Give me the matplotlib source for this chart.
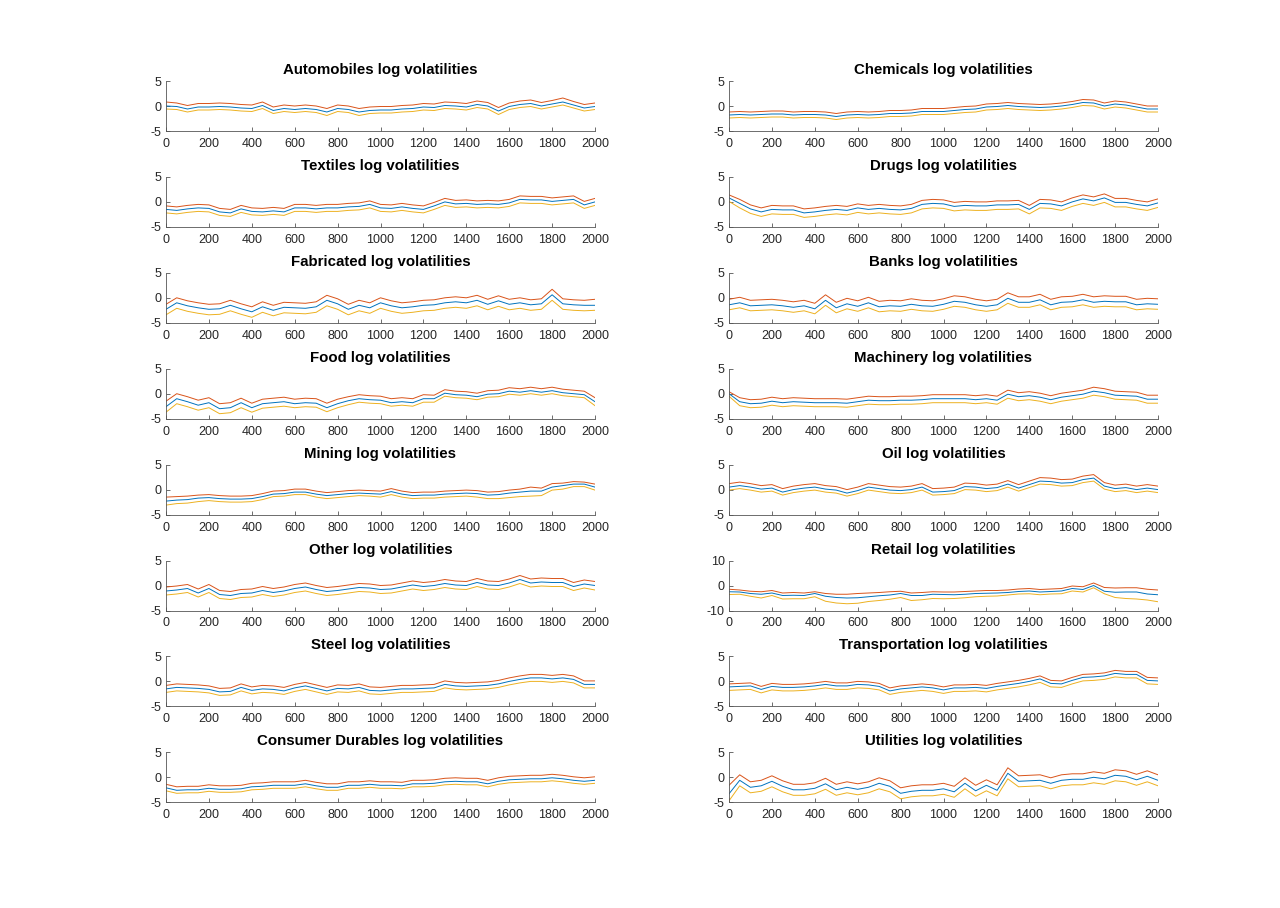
import numpy as np
import matplotlib
matplotlib.use("Agg")
import matplotlib.pyplot as plt

plt.rcParams['font.family'] = ['Liberation Sans', 'DejaVu Sans']
plt.rcParams['axes.unicode_minus'] = False

# sample index (every 50 observations)
obs = np.arange(0, 2001, 50)

titles = ["Automobiles", "Chemicals", "Textiles", "Drugs", "Fabricated", "Banks",
          "Food", "Machinery", "Mining", "Oil", "Other", "Retail", "Steel",
          "Transportation", "Consumer Durables", "Utilities"]

auto_mid = [0.0,-0.1,-0.6,-0.2,-0.2,-0.1,-0.2,-0.4,-0.5,0.1,-0.9,-0.5,-0.7,-0.5,-0.7,-1.2,-0.5,-0.7,-1.2,-0.9,-0.8,-0.8,-0.6,-0.5,-0.2,-0.3,0.1,0.0,-0.2,0.3,0.0,-1.0,-0.1,0.3,0.5,0.0,0.4,0.8,0.2,-0.4,-0.1]
auto_hi = [0.8,0.6,0.1,0.5,0.5,0.6,0.5,0.3,0.2,0.8,-0.2,0.2,0.0,0.2,0.0,-0.5,0.2,0.0,-0.5,-0.2,-0.1,-0.1,0.1,0.2,0.5,0.4,0.8,0.7,0.5,1.0,0.7,-0.3,0.6,1.0,1.2,0.7,1.1,1.6,0.9,0.3,0.6]
auto_lo = [-0.6,-0.7,-1.2,-0.8,-0.8,-0.7,-0.8,-1.0,-1.1,-0.5,-1.5,-1.1,-1.3,-1.1,-1.3,-1.9,-1.1,-1.3,-1.9,-1.5,-1.4,-1.4,-1.2,-1.1,-0.8,-0.9,-0.5,-0.6,-0.8,-0.3,-0.6,-1.7,-0.7,-0.3,-0.1,-0.6,-0.2,0.2,-0.4,-1.0,-0.7]

chem_mid = [-1.8,-1.7,-1.8,-1.7,-1.6,-1.6,-1.8,-1.7,-1.7,-1.8,-2.1,-1.8,-1.7,-1.8,-1.7,-1.5,-1.5,-1.4,-1.1,-1.1,-1.1,-0.9,-0.7,-0.6,-0.2,-0.1,0.1,-0.1,-0.2,-0.3,-0.2,0.0,0.3,0.7,0.6,0.0,0.4,0.2,-0.2,-0.6,-0.6]
chem_hi = [-1.2,-1.1,-1.2,-1.1,-1.0,-1.0,-1.2,-1.1,-1.1,-1.2,-1.5,-1.2,-1.1,-1.2,-1.1,-0.9,-0.9,-0.8,-0.5,-0.5,-0.5,-0.3,-0.1,0.0,0.4,0.5,0.7,0.5,0.4,0.3,0.4,0.6,0.9,1.3,1.2,0.6,1.0,0.8,0.4,0.0,0.0]
chem_lo = [-2.4,-2.3,-2.4,-2.3,-2.2,-2.2,-2.4,-2.3,-2.3,-2.4,-2.7,-2.4,-2.3,-2.4,-2.3,-2.1,-2.1,-2.0,-1.7,-1.7,-1.7,-1.5,-1.3,-1.2,-0.8,-0.7,-0.5,-0.7,-0.8,-0.9,-0.8,-0.6,-0.3,0.1,0.0,-0.6,-0.2,-0.4,-0.8,-1.2,-1.2]

text_mid = [-1.5,-1.7,-1.4,-1.2,-1.3,-2.0,-2.2,-1.4,-1.9,-2.0,-1.8,-2.0,-1.2,-1.2,-1.4,-1.2,-1.2,-1.0,-0.9,-0.5,-1.2,-1.3,-1.0,-1.3,-1.5,-0.8,0.0,-0.4,-0.3,-0.5,-0.4,-0.5,-0.2,0.5,0.4,0.4,0.1,0.3,0.5,-0.6,0.0]
text_hi = [-0.8,-1.0,-0.7,-0.5,-0.6,-1.3,-1.5,-0.7,-1.2,-1.3,-1.1,-1.3,-0.5,-0.5,-0.7,-0.5,-0.5,-0.3,-0.2,0.2,-0.5,-0.6,-0.3,-0.6,-0.8,-0.1,0.7,0.3,0.4,0.2,0.3,0.2,0.5,1.2,1.1,1.1,0.8,1.0,1.2,0.1,0.7]
text_lo = [-2.2,-2.4,-2.1,-1.9,-2.0,-2.7,-2.9,-2.1,-2.6,-2.7,-2.5,-2.7,-1.9,-1.9,-2.1,-1.9,-1.9,-1.7,-1.6,-1.2,-1.9,-2.0,-1.7,-2.0,-2.2,-1.5,-0.7,-1.1,-1.0,-1.2,-1.1,-1.2,-0.9,-0.2,-0.3,-0.3,-0.6,-0.4,-0.2,-1.3,-0.7]

drug_mid = [0.8,-0.3,-1.4,-2.0,-1.5,-1.6,-1.6,-2.2,-2.0,-1.7,-1.5,-1.7,-1.2,-1.5,-1.3,-1.5,-1.6,-1.3,-0.5,-0.3,-0.4,-0.9,-0.7,-0.8,-0.8,-0.6,-0.6,-0.5,-1.5,-0.3,-0.4,-0.8,0.0,0.6,0.2,0.8,-0.1,-0.1,-0.5,-0.8,-0.2]
drug_hi = [1.4,0.5,-0.6,-1.2,-0.7,-0.8,-0.8,-1.4,-1.2,-0.9,-0.7,-0.9,-0.4,-0.7,-0.5,-0.7,-0.8,-0.5,0.3,0.5,0.4,-0.1,0.1,0.0,0.0,0.2,0.2,0.3,-0.7,0.5,0.4,0.0,0.8,1.4,1.0,1.6,0.7,0.7,0.3,0.0,0.6]
drug_lo = [0.1,-1.2,-2.3,-2.9,-2.4,-2.5,-2.5,-3.1,-2.9,-2.6,-2.4,-2.6,-2.1,-2.4,-2.2,-2.4,-2.5,-2.2,-1.4,-1.2,-1.3,-1.8,-1.6,-1.7,-1.7,-1.5,-1.5,-1.4,-2.4,-1.2,-1.3,-1.7,-0.9,-0.3,-0.7,-0.1,-1.0,-1.0,-1.4,-1.7,-1.1]

fabr_mid = [-2.3,-1.0,-1.6,-2.0,-2.3,-2.2,-1.5,-2.2,-2.8,-1.8,-2.5,-1.9,-2.0,-2.1,-1.8,-0.5,-1.2,-2.3,-1.5,-2.0,-1.0,-1.6,-2.0,-1.8,-1.5,-1.4,-1.0,-0.8,-1.0,-0.5,-1.3,-0.6,-1.3,-1.0,-1.4,-1.2,0.6,-1.2,-1.4,-1.5,-1.5]
fabr_hi = [-1.3,0.0,-0.6,-1.0,-1.3,-1.2,-0.5,-1.2,-1.8,-0.8,-1.5,-0.9,-1.0,-1.1,-0.8,0.5,-0.2,-1.3,-0.5,-1.0,0.0,-0.6,-1.0,-0.8,-0.5,-0.4,0.0,0.2,0.0,0.5,-0.3,0.4,-0.3,0.0,-0.4,-0.2,1.7,-0.2,-0.4,-0.5,-0.3]
fabr_lo = [-3.4,-2.1,-2.7,-3.1,-3.4,-3.3,-2.6,-3.3,-3.9,-2.9,-3.6,-3.0,-3.1,-3.2,-2.9,-1.6,-2.3,-3.4,-2.6,-3.1,-2.1,-2.7,-3.1,-2.9,-2.6,-2.5,-2.1,-1.9,-2.1,-1.6,-2.4,-1.7,-2.4,-2.1,-2.5,-2.3,-0.5,-2.3,-2.5,-2.6,-2.5]

bank_mid = [-1.4,-1.0,-1.6,-1.5,-1.4,-1.6,-1.9,-1.6,-2.2,-0.5,-2.0,-1.2,-1.7,-1.0,-1.8,-1.6,-1.7,-1.3,-1.6,-1.7,-1.3,-0.7,-0.9,-1.4,-1.7,-1.4,-0.1,-0.9,-0.9,-0.4,-1.4,-0.9,-0.8,-0.4,-0.9,-0.7,-0.8,-0.8,-1.4,-1.2,-1.3]
bank_hi = [-0.3,0.1,-0.5,-0.4,-0.3,-0.5,-0.8,-0.5,-1.1,0.6,-0.9,-0.1,-0.6,0.1,-0.7,-0.5,-0.6,-0.2,-0.5,-0.6,-0.2,0.4,0.2,-0.3,-0.6,-0.3,1.0,0.2,0.2,0.7,-0.3,0.2,0.3,0.7,0.2,0.4,0.3,0.3,-0.3,-0.1,-0.2]
bank_lo = [-2.4,-2.0,-2.6,-2.5,-2.4,-2.6,-2.9,-2.6,-3.2,-1.5,-3.0,-2.2,-2.7,-2.0,-2.8,-2.6,-2.7,-2.3,-2.6,-2.7,-2.3,-1.7,-1.9,-2.4,-2.7,-2.4,-1.1,-1.9,-1.9,-1.4,-2.4,-1.9,-1.8,-1.4,-1.9,-1.7,-1.8,-1.8,-2.4,-2.2,-2.3]

food_mid = [-2.6,-1.0,-1.6,-2.3,-1.8,-3.0,-2.8,-1.8,-2.8,-2.0,-1.8,-1.6,-2.0,-1.8,-1.9,-2.8,-2.0,-1.4,-1.0,-1.2,-1.3,-1.8,-1.6,-1.8,-1.0,-1.0,0.1,-0.2,-0.3,-0.6,-0.1,0.0,0.5,0.3,0.6,0.3,0.6,0.2,0.0,-0.2,-1.6]
food_hi = [-1.5,0.0,-0.6,-1.3,-0.8,-2.0,-1.8,-0.9,-1.9,-1.1,-0.9,-0.7,-1.1,-0.9,-1.0,-1.9,-1.1,-0.6,-0.2,-0.4,-0.5,-1.0,-0.8,-1.0,-0.2,-0.3,0.8,0.5,0.4,0.1,0.6,0.7,1.2,1.0,1.3,1.0,1.3,0.9,0.7,0.5,-0.8]
food_lo = [-3.7,-2.0,-2.6,-3.3,-2.8,-4.0,-3.8,-2.8,-3.7,-2.9,-2.7,-2.5,-2.8,-2.6,-2.7,-3.6,-2.8,-2.2,-1.7,-1.9,-2.0,-2.5,-2.3,-2.5,-1.7,-1.7,-0.5,-0.8,-0.9,-1.2,-0.7,-0.6,-0.1,-0.3,0.0,-0.3,0.0,-0.4,-0.6,-0.8,-2.4]

mach_mid = [0.0,-1.6,-2.0,-1.9,-1.5,-1.8,-1.6,-1.7,-1.8,-1.8,-1.8,-1.9,-1.6,-1.3,-1.4,-1.4,-1.3,-1.3,-1.2,-1.0,-1.0,-1.0,-1.0,-1.2,-1.0,-1.3,-0.1,-0.6,-0.4,-0.7,-1.2,-0.7,-0.4,-0.1,0.5,0.2,-0.3,-0.4,-0.5,-1.1,-1.1]
mach_hi = [0.4,-0.8,-1.2,-1.1,-0.7,-1.0,-0.8,-0.9,-1.0,-1.0,-1.0,-1.1,-0.8,-0.5,-0.6,-0.6,-0.5,-0.5,-0.4,-0.2,-0.2,-0.2,-0.2,-0.4,-0.2,-0.5,0.7,0.2,0.4,0.1,-0.4,0.1,0.4,0.7,1.3,1.0,0.5,0.4,0.3,-0.3,-0.3]
mach_lo = [-0.5,-2.4,-2.8,-2.7,-2.3,-2.6,-2.4,-2.5,-2.6,-2.6,-2.6,-2.7,-2.4,-2.1,-2.2,-2.2,-2.1,-2.1,-2.0,-1.8,-1.8,-1.8,-1.8,-2.0,-1.8,-2.1,-0.9,-1.4,-1.2,-1.5,-2.0,-1.5,-1.2,-0.9,-0.3,-0.6,-1.1,-1.2,-1.3,-1.9,-1.9]

mine_mid = [-2.3,-2.1,-2.0,-1.7,-1.6,-1.8,-1.9,-1.9,-1.8,-1.4,-0.9,-0.8,-0.5,-0.5,-0.9,-1.2,-1.0,-0.8,-0.7,-0.8,-0.9,-0.4,-0.9,-1.2,-1.1,-1.1,-0.9,-0.8,-0.7,-0.8,-1.1,-1.0,-0.7,-0.5,-0.3,-0.3,0.5,0.8,1.1,1.1,0.5]
mine_hi = [-1.5,-1.4,-1.3,-1.1,-1.0,-1.2,-1.3,-1.3,-1.2,-0.8,-0.3,-0.2,0.1,0.1,-0.3,-0.6,-0.4,-0.2,-0.1,-0.2,-0.3,0.2,-0.3,-0.6,-0.5,-0.5,-0.3,-0.2,-0.1,-0.2,-0.5,-0.4,-0.1,0.1,0.5,0.3,1.2,1.3,1.6,1.5,1.1]
mine_lo = [-3.1,-2.8,-2.7,-2.4,-2.2,-2.4,-2.5,-2.5,-2.4,-2.0,-1.4,-1.3,-1.0,-1.0,-1.5,-1.8,-1.6,-1.4,-1.2,-1.3,-1.5,-1.0,-1.5,-1.8,-1.7,-1.7,-1.5,-1.4,-1.3,-1.5,-1.8,-1.8,-1.6,-1.4,-1.3,-1.2,-0.1,0.1,0.6,0.6,-0.1]

oil_mid = [0.5,0.8,0.5,0.1,0.3,-0.5,0.0,0.3,0.5,0.1,-0.1,-0.7,-0.2,0.5,0.2,-0.1,-0.2,0.0,0.5,-0.5,-0.4,-0.2,0.6,0.5,0.2,0.4,1.1,0.3,1.0,1.7,1.6,1.3,1.4,2.0,2.3,0.7,0.2,0.4,0.0,0.3,0.0]
oil_hi = [1.2,1.5,1.2,0.8,1.0,0.2,0.7,1.0,1.2,0.8,0.6,0.0,0.5,1.2,0.9,0.6,0.5,0.7,1.2,0.2,0.3,0.5,1.3,1.2,0.9,1.1,1.8,1.0,1.7,2.4,2.3,2.0,2.1,2.7,3.0,1.4,0.9,1.1,0.7,1.0,0.7]
oil_lo = [-0.1,0.2,-0.1,-0.5,-0.3,-1.1,-0.6,-0.3,-0.1,-0.5,-0.7,-1.3,-0.8,-0.1,-0.4,-0.7,-0.8,-0.6,-0.1,-1.1,-1.0,-0.8,0.0,-0.1,-0.4,-0.2,0.5,-0.3,0.4,1.1,1.0,0.7,0.8,1.4,1.7,0.1,-0.4,-0.2,-0.6,-0.3,-0.6]

othr_mid = [-1.1,-0.9,-0.6,-1.5,-0.6,-1.8,-2.0,-1.6,-1.5,-1.0,-1.4,-1.1,-0.6,-0.3,-0.8,-1.2,-1.0,-0.7,-0.4,-0.5,-0.8,-0.7,-0.3,0.1,-0.2,0.0,0.4,0.1,0.0,0.6,0.1,0.0,0.5,1.2,0.5,0.7,0.6,0.6,-0.2,0.3,0.0]
othr_hi = [-0.3,-0.1,0.2,-0.7,0.2,-1.0,-1.2,-0.8,-0.7,-0.2,-0.6,-0.3,0.2,0.5,0.0,-0.4,-0.2,0.1,0.4,0.3,0.0,0.1,0.5,0.9,0.6,0.8,1.2,0.9,0.8,1.4,0.9,0.8,1.3,2.0,1.3,1.5,1.4,1.4,0.6,1.1,0.8]
othr_lo = [-1.9,-1.7,-1.4,-2.3,-1.4,-2.6,-2.8,-2.4,-2.3,-1.8,-2.2,-1.9,-1.4,-1.1,-1.6,-2.0,-1.8,-1.5,-1.2,-1.3,-1.6,-1.5,-1.1,-0.7,-1.0,-0.8,-0.4,-0.7,-0.8,-0.2,-0.7,-0.8,-0.3,0.4,-0.3,-0.1,-0.2,-0.2,-1.0,-0.5,-0.9]

retl_mid = [-2.5,-2.6,-3.2,-3.5,-3.0,-4.0,-3.9,-4.0,-3.2,-4.3,-4.8,-5.0,-4.9,-4.5,-4.1,-3.8,-3.2,-4.0,-4.0,-3.5,-3.6,-3.7,-3.5,-3.2,-3.1,-3.0,-2.8,-2.4,-2.2,-2.6,-2.4,-2.2,-1.2,-1.6,0.0,-2.3,-2.7,-2.6,-2.6,-3.4,-3.7]
retl_hi = [-1.5,-1.8,-2.3,-2.5,-2.0,-3.0,-2.8,-3.0,-2.5,-3.2,-3.5,-3.5,-3.2,-3.0,-2.8,-2.5,-2.3,-3.0,-2.8,-2.5,-2.6,-2.6,-2.4,-2.2,-2.0,-2.0,-1.8,-1.4,-1.2,-1.6,-1.4,-1.2,-0.2,-0.5,1.0,-0.8,-1.0,-0.9,-0.9,-1.5,-1.8]
retl_lo = [-3.6,-3.5,-4.3,-5.0,-4.0,-5.4,-5.3,-5.3,-4.5,-6.3,-7.0,-7.3,-7.1,-6.4,-6.0,-5.5,-4.8,-6.0,-5.7,-5.2,-5.3,-5.2,-4.9,-4.5,-4.3,-4.2,-3.8,-3.4,-3.3,-3.7,-3.4,-3.3,-2.2,-2.6,-0.9,-3.3,-4.8,-5.2,-5.4,-5.8,-6.5]

stel_mid = [-1.5,-1.2,-1.3,-1.4,-1.6,-2.1,-2.0,-1.2,-1.8,-1.5,-1.6,-1.9,-1.3,-0.9,-1.4,-1.9,-1.4,-1.5,-1.2,-1.8,-1.9,-1.7,-1.5,-1.5,-1.4,-1.3,-0.6,-0.9,-1.0,-0.9,-0.8,-0.5,0.0,0.4,0.7,0.7,0.5,0.7,0.4,-0.6,-0.6]
stel_hi = [-0.8,-0.5,-0.6,-0.7,-0.9,-1.4,-1.3,-0.5,-1.1,-0.8,-0.9,-1.2,-0.6,-0.2,-0.7,-1.2,-0.7,-0.8,-0.5,-1.1,-1.2,-1.0,-0.8,-0.8,-0.7,-0.6,0.1,-0.2,-0.3,-0.2,-0.1,0.2,0.7,1.1,1.4,1.4,1.2,1.4,1.1,0.1,0.1]
stel_lo = [-2.2,-1.9,-2.0,-2.1,-2.3,-2.8,-2.7,-1.9,-2.5,-2.2,-2.3,-2.6,-2.0,-1.6,-2.1,-2.6,-2.1,-2.2,-1.9,-2.5,-2.6,-2.4,-2.2,-2.2,-2.1,-2.0,-1.3,-1.6,-1.7,-1.6,-1.5,-1.2,-0.7,-0.3,0.0,0.0,-0.2,0.0,-0.3,-1.3,-1.3]

tran_mid = [-1.1,-1.0,-0.9,-1.6,-1.0,-1.2,-1.2,-1.1,-0.9,-0.6,-0.9,-0.9,-0.6,-0.7,-1.0,-1.9,-1.5,-1.3,-1.1,-1.3,-1.7,-1.3,-1.3,-1.2,-1.4,-1.0,-0.7,-0.4,0.0,0.5,-0.4,-0.5,0.2,0.8,0.9,1.1,1.6,1.4,1.4,0.2,0.1]
tran_hi = [-0.5,-0.4,-0.3,-1.0,-0.4,-0.6,-0.6,-0.5,-0.3,0.0,-0.3,-0.3,0.0,-0.1,-0.4,-1.3,-0.9,-0.7,-0.5,-0.7,-1.1,-0.7,-0.7,-0.6,-0.8,-0.4,-0.1,0.2,0.6,1.1,0.2,0.1,0.8,1.4,1.5,1.7,2.2,2.0,2.0,0.8,0.7]
tran_lo = [-1.8,-1.7,-1.6,-2.3,-1.7,-1.9,-1.9,-1.8,-1.6,-1.3,-1.6,-1.6,-1.3,-1.4,-1.7,-2.6,-2.2,-2.0,-1.8,-2.0,-2.4,-2.0,-2.0,-1.9,-2.1,-1.7,-1.4,-1.1,-0.7,-0.2,-1.1,-1.2,-0.5,0.1,0.2,0.4,0.9,0.7,0.7,-0.5,-0.6]

cdur_mid = [-2.1,-2.6,-2.5,-2.5,-2.2,-2.4,-2.4,-2.3,-1.9,-1.8,-1.6,-1.6,-1.6,-1.3,-1.7,-2.0,-2.0,-1.6,-1.6,-1.4,-1.6,-1.6,-1.7,-1.3,-1.3,-1.2,-0.9,-0.8,-0.9,-0.9,-1.3,-0.8,-0.5,-0.4,-0.3,-0.3,-0.1,-0.3,-0.6,-0.8,-0.6]
cdur_hi = [-1.4,-1.9,-1.8,-1.8,-1.5,-1.7,-1.7,-1.6,-1.2,-1.1,-0.9,-0.9,-0.9,-0.6,-1.0,-1.3,-1.3,-0.9,-0.9,-0.7,-0.9,-0.9,-1.0,-0.6,-0.6,-0.5,-0.2,-0.1,-0.2,-0.2,-0.6,-0.1,0.2,0.3,0.4,0.4,0.6,0.4,0.1,-0.1,0.1]
cdur_lo = [-2.7,-3.2,-3.1,-3.1,-2.8,-3.0,-3.0,-2.9,-2.5,-2.4,-2.2,-2.2,-2.2,-1.9,-2.3,-2.6,-2.6,-2.2,-2.2,-2.0,-2.2,-2.2,-2.3,-1.9,-1.9,-1.8,-1.5,-1.4,-1.5,-1.5,-1.9,-1.4,-1.1,-1.0,-0.9,-0.9,-0.7,-0.9,-1.2,-1.4,-1.2]

util_mid = [-3.3,-0.6,-2.0,-1.7,-0.8,-1.8,-2.5,-2.5,-2.2,-1.3,-2.5,-2.0,-2.4,-2.0,-1.2,-1.8,-3.2,-2.8,-2.6,-2.6,-2.3,-2.9,-1.2,-2.7,-1.6,-2.6,0.8,-0.8,-0.7,-0.6,-1.2,-0.6,-0.4,-0.4,0.0,-0.3,0.4,0.2,-0.5,0.2,-0.6]
util_hi = [-1.6,0.5,-0.9,-0.6,0.3,-0.7,-1.4,-1.4,-1.1,-0.2,-1.4,-0.9,-1.3,-0.9,-0.1,-0.7,-2.1,-1.7,-1.5,-1.5,-1.2,-1.8,-0.1,-1.6,-0.5,-1.5,1.9,0.3,0.4,0.5,-0.1,0.5,0.7,0.7,1.1,0.8,1.5,1.3,0.6,1.3,0.5]
util_lo = [-4.7,-1.7,-3.1,-2.8,-1.9,-2.9,-3.6,-3.6,-3.3,-2.4,-3.6,-3.1,-3.5,-3.1,-2.3,-2.9,-4.3,-3.9,-3.7,-3.7,-3.4,-4.0,-2.3,-3.8,-2.7,-3.7,-0.3,-1.9,-1.8,-1.7,-2.3,-1.7,-1.5,-1.5,-1.1,-1.4,-0.7,-0.9,-1.6,-0.9,-1.7]

series = [
    (auto_mid, auto_hi, auto_lo), (chem_mid, chem_hi, chem_lo),
    (text_mid, text_hi, text_lo), (drug_mid, drug_hi, drug_lo),
    (fabr_mid, fabr_hi, fabr_lo), (bank_mid, bank_hi, bank_lo),
    (food_mid, food_hi, food_lo), (mach_mid, mach_hi, mach_lo),
    (mine_mid, mine_hi, mine_lo), (oil_mid, oil_hi, oil_lo),
    (othr_mid, othr_hi, othr_lo), (retl_mid, retl_hi, retl_lo),
    (stel_mid, stel_hi, stel_lo), (tran_mid, tran_hi, tran_lo),
    (cdur_mid, cdur_hi, cdur_lo), (util_mid, util_hi, util_lo),
]

colors = ['#0072BD', '#D95319', '#EDB120']
axcol = '#262626'

W, H = 1280, 908
fig = plt.figure(figsize=(W / 100, H / 100), dpi=100)
fig.patch.set_facecolor('white')

lefts = [166, 729]
aw = 429
ah = 50
top0 = 81
step = 95.9

for k, (name, (mid, hi, lo)) in enumerate(zip(titles, series)):
    r, c = divmod(k, 2)
    top = top0 + r * step
    ax = fig.add_axes([lefts[c] / W, 1 - (top + ah) / H, aw / W, ah / H])
    ax.plot(obs, mid, color=colors[0], lw=0.7)
    ax.plot(obs, hi, color=colors[1], lw=0.7)
    ax.plot(obs, lo, color=colors[2], lw=0.7)
    ax.set_xlim(0, 2000)
    if name == "Retail":
        ax.set_ylim(-10, 10)
        ax.set_yticks([-10, 0, 10])
    else:
        ax.set_ylim(-5, 5)
        ax.set_yticks([-5, 0, 5])
    ax.set_xticks(np.arange(0, 2001, 200))
    for s in ['top', 'right']:
        ax.spines[s].set_visible(False)
    for s in ['left', 'bottom']:
        ax.spines[s].set_color('#555555')
        ax.spines[s].set_linewidth(0.6)
    ax.tick_params(direction='in', length=3, width=0.6, colors='#555555',
                   labelcolor=axcol, labelsize=9, pad=3)
    ax.tick_params(axis='x', pad=5)
    ax.set_title(f"{name} log volatilities", fontsize=10.8, fontweight='bold',
                 color='black', pad=5)

fig.savefig("out.png", dpi=100, facecolor='white')
